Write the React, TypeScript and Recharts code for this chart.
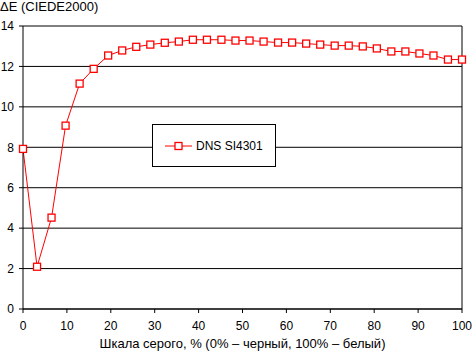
import {
  LineChart,
  Line,
  XAxis,
  YAxis,
  CartesianGrid,
  Legend,
  ReferenceLine,
} from "recharts";

const grayLevels = [
  0, 3.2, 6.5, 9.7, 12.9, 16.1, 19.4, 22.6, 25.8, 29.0, 32.3, 35.5, 38.7, 41.9,
  45.2, 48.4, 51.6, 54.8, 58.1, 61.3, 64.5, 67.7, 71.0, 74.2, 77.4, 80.6, 83.9,
  87.1, 90.3, 93.5, 96.8, 100,
];

const deltaE = [
  7.92, 2.09, 4.52, 9.07, 11.15, 11.88, 12.54, 12.79, 12.97, 13.08, 13.17, 13.23,
  13.32, 13.32, 13.32, 13.28, 13.28, 13.23, 13.18, 13.18, 13.13, 13.08, 13.03,
  13.03, 12.99, 12.89, 12.74, 12.74, 12.64, 12.54, 12.34, 12.34,
];

const xTicks = [0, 10, 20, 30, 40, 50, 60, 70, 80, 90, 100];
const yTicks = [0, 2, 4, 6, 8, 10, 12, 14];

const seriesName = "DNS SI4301";

const data = grayLevels.map((x, i) => ({ x, de: deltaE[i] }));

const font = "Arial, 'Liberation Sans', sans-serif";

const SquareDot = (props: any) => {
  const { cx, cy, index } = props;
  if (cx == null || cy == null) return null;
  return (
    <rect
      key={`dot-${index}`}
      x={cx - 3.5}
      y={cy - 3.5}
      width={7}
      height={7}
      fill="#fff"
      stroke="#ff0000"
      strokeWidth={1.3}
    />
  );
};

const LegendBox = () => (
  <div
    style={{
      width: 124,
      height: 43,
      boxSizing: "border-box",
      border: "1px solid #000",
      background: "#fff",
      display: "flex",
      alignItems: "center",
      fontFamily: font,
      fontSize: 12,
      color: "#000",
    }}
  >
    <svg width={43} height={10} style={{ marginLeft: 12 }}>
      <line x1={0} y1={5} x2={27} y2={5} stroke="#ff0000" strokeWidth={1} />
      <rect x={10} y={1.5} width={7} height={7} fill="#fff" stroke="#ff0000" strokeWidth={1.3} />
    </svg>
    <span style={{ marginLeft: -12 }}>{seriesName}</span>
  </div>
);

export default function App() {
  return (
    <div style={{ position: "absolute", left: 0, top: 0, background: "#fff" }}>
      <div
        style={{
          position: "absolute",
          left: 0,
          top: -1,
          fontFamily: font,
          fontSize: 13,
          color: "#000",
          whiteSpace: "nowrap",
        }}
      >
        ΔE (CIEDE2000)
      </div>
      <LineChart
        width={472}
        height={352}
        data={data}
        margin={{ top: 26, right: 10, left: 0, bottom: 0 }}
      >
        <CartesianGrid vertical={false} stroke="#000" strokeOpacity={1} />
        <XAxis
          dataKey="x"
          type="number"
          domain={[0, 100]}
          ticks={xTicks}
          height={43}
          stroke="#000"
          tickSize={4}
          tickMargin={8}
          tick={{ fontSize: 12, fill: "#000", fontFamily: font }}
          label={{
            value: "Шкала серого, % (0% – черный, 100% – белый)",
            position: "insideBottom",
            offset: 4,
            fontSize: 13,
            fill: "#000",
            fontFamily: font,
          }}
        />
        <YAxis
          type="number"
          domain={[0, 14]}
          ticks={yTicks}
          width={23}
          stroke="#000"
          tickSize={4}
          tickMargin={5}
          tick={{ fontSize: 12, fill: "#000", fontFamily: font }}
        />
        <ReferenceLine x={100} stroke="#000" />
        <Legend
          layout="horizontal"
          verticalAlign="middle"
          align="center"
          wrapperStyle={{ left: 152, top: 124, width: 124, height: 43 }}
          content={() => <LegendBox />}
        />
        <Line
          type="linear"
          dataKey="de"
          name={seriesName}
          stroke="#ff0000"
          strokeWidth={1}
          dot={SquareDot}
          activeDot={false}
          isAnimationActive={false}
        />
      </LineChart>
    </div>
  );
}
